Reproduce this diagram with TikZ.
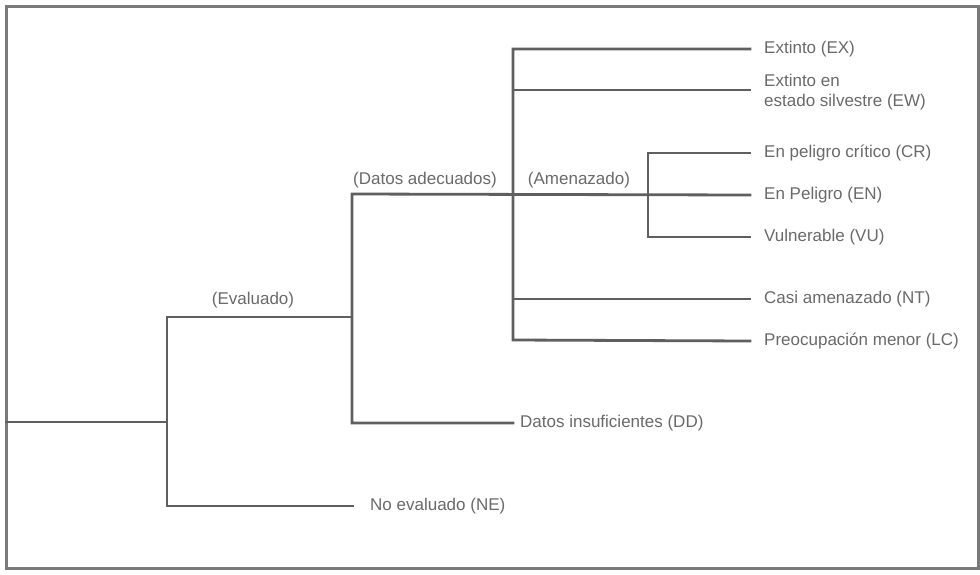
\documentclass[tikz,border=0pt]{standalone}
\usepackage{fontspec}
\setmainfont{Liberation Sans}
\definecolor{linegray}{HTML}{5F5F5F}
\definecolor{textgray}{HTML}{6A6A6A}
\definecolor{framegray}{HTML}{7A7A7A}
\begin{document}
\begin{tikzpicture}[x=1pt,y=-1pt,
  conn/.style={draw=linegray, line width=2.8pt, line cap=rect, line join=miter},
  frame/.style={draw=framegray, line width=3pt},
  leaf/.style={anchor=west, inner sep=0pt, text=textgray, font=\fontsize{17}{20}\selectfont},
  tag/.style={inner sep=0pt, text=textgray, font=\fontsize{17}{20}\selectfont}]
\useasboundingbox (0,0) rectangle (980,574);
\fill[white] (0,0) rectangle (980,574);
\draw[frame] (6,6) rectangle (978,568);

% junctions
\coordinate (root) at (6,422);
\coordinate (j1)  at (167,422);
\coordinate (j1t) at (167,317);
\coordinate (j1b) at (167,506);
\coordinate (j2)  at (352,317);
\coordinate (j2t) at (352,194);
\coordinate (j2b) at (352,423);
\coordinate (j3t) at (513,49);
\coordinate (j3b) at (513,340);
\coordinate (j4t) at (648,153);
\coordinate (j4b) at (648,237);

% leaves
\node[leaf] (ex) at (764,49)  {Extinto (EX)};
\node[leaf, align=left] (ew) at (764,92) {Extinto en\\estado silvestre (EW)};
\coordinate (ewend) at (750,90);
\node[leaf] (cr) at (764,153) {En peligro crítico (CR)};
\node[leaf] (en) at (764,195) {En Peligro (EN)};
\node[leaf] (vu) at (764,237) {Vulnerable (VU)};
\node[leaf] (nt) at (764,299) {Casi amenazado (NT)};
\node[leaf] (lc) at (764,341) {Preocupación menor (LC)};
\node[leaf] (dd) at (520,423) {Datos insuficientes (DD)};
\node[leaf] (ne) at (370,506) {No evaluado (NE)};

% branch labels
\node[tag] (lev) at (253,300) {(Evaluado)};
\node[tag] (lda) at (425,180) {(Datos adecuados)};
\node[tag] (lam) at (579,180) {(Amenazado)};

% connectors
\draw[conn] (root) -- (j1);
\draw[conn] (j2) -- (j1t) -- (j1b) -- ([xshift=-17pt]ne.west);
\draw[conn] ([xshift=-14pt]en.west) -- (j2t) -- (j2b) -- ([xshift=-7pt]dd.west);
\draw[conn] ([xshift=-14pt]ex.west) -- (j3t) -- (j3b) -- ([xshift=-14pt]lc.west);
\draw[conn] (j3t |- ewend) -- (ewend);
\draw[conn] (j3t |- nt) -- ([xshift=-14pt]nt.west);
\draw[conn] ([xshift=-14pt]cr.west) -- (j4t) -- (j4b) -- ([xshift=-14pt]vu.west);
\end{tikzpicture}
\end{document}
